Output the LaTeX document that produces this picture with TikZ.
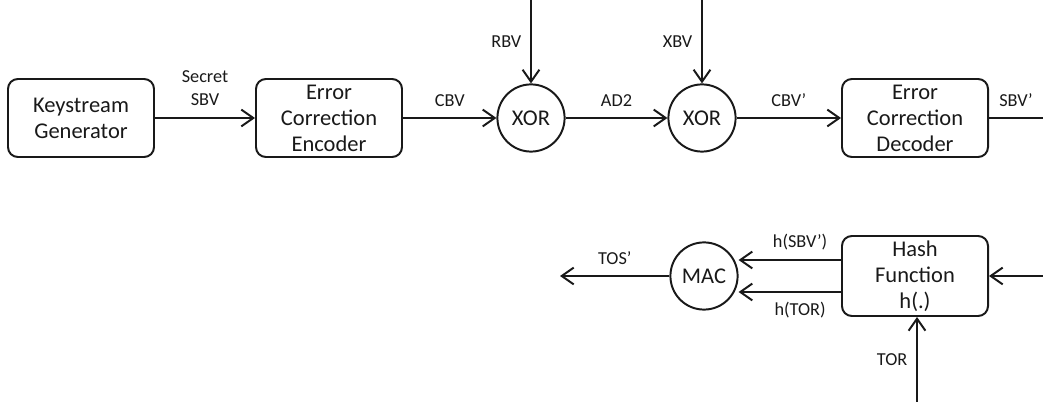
\documentclass[tikz,border=0pt]{standalone}
\usepackage{fontspec}
\setmainfont{Carlito}
\usetikzlibrary{
  arrows.meta,
  calc,
  positioning
}
\colorlet{ink}{black!90}
\tikzset{
  >={Straight Barb[length=3mm,width=4.2mm]},
  arrow/.style={->, draw=ink, line width=1.4pt},
  connector/.style={draw=ink, line width=1.4pt},
  block/.style={
    draw=ink,
    rounded corners=7pt,
    line width=1.4pt,
    minimum width=3.65cm,
    minimum height=1.95cm,
    inner sep=2pt,
    align=center,
    text=ink,
    font=\fontsize{16}{18.5}\selectfont
  },
  gate/.style={
    circle,
    draw=ink,
    line width=1.4pt,
    minimum size=1.68cm,
    inner sep=0pt,
    text=ink,
    font=\fontsize{16}{18.5}\selectfont
  },
  sig label/.style={font=\fontsize{13}{16}\selectfont, text=ink, align=center}
}

\begin{document}
\begin{tikzpicture}[x=1cm,y=1cm]
  \useasboundingbox (0,0) rectangle (26.075,10.05);

  % upper chain
  \node[block] (keygen) at (2.025,7.1) {Keystream\\Generator};
  \node[block] (encoder) at (8.225,7.1) {Error\\Correction\\Encoder};
  \node[gate] (xorA) at (13.275,7.1) {XOR};
  \node[gate] (xorB) at (17.55,7.1) {XOR};
  \node[block] (decoder) at (22.875,7.1) {Error\\Correction\\Decoder};

  % lower chain
  \node[block, minimum height=2.0cm] (hash) at (22.875,3.15) {Hash\\Function\\h(.)};
  \node[gate] (mac) at (17.6,3.15) {MAC};

  \coordinate (rbvin) at (13.275,10.05);
  \coordinate (xbvin) at (17.55,10.05);
  \coordinate (sbvout) at (26.075,7.1);
  \coordinate (hashin) at (26.075,3.15);
  \coordinate (torin) at (22.925,0);
  \coordinate (tosout) at (14.0,3.15);
  \coordinate (hsbv) at ($(hash.west)+(0,0.4)$);
  \coordinate (htor) at ($(hash.west)+(0,-0.4)$);

  \draw[arrow] (keygen.east) -- node[sig label, above=5pt] {Secret\\SBV} (encoder.west);
  \draw[arrow] (encoder.east) -- node[sig label, above=4pt] {CBV} (xorA.west);
  \draw[arrow] (xorA.east) -- node[sig label, above=4pt] {AD2} (xorB.west);
  \draw[arrow] (xorB.east) -- node[sig label, above=4pt] {CBV'} (decoder.west);
  \draw[connector] (decoder.east) -- node[sig label, above=4pt] {SBV'} (sbvout);
  \draw[arrow] (rbvin) -- node[sig label, left=1mm] {RBV} (xorA.north);
  \draw[arrow] (xbvin) -- node[sig label, left=1mm] {XBV} (xorB.north);

  \draw[arrow] (hashin) -- (hash.east);
  \draw[arrow] (torin) -- node[sig label, left=1mm] {TOR} (torin |- hash.south);
  \draw[arrow] (hsbv) -- node[sig label, above=3pt, pos=0.4] {h(SBV')} (hsbv -| mac.east);
  \draw[arrow] (htor) -- node[sig label, below=3pt, pos=0.4] {h(TOR)} (htor -| mac.east);
  \draw[arrow] (mac.west) -- node[sig label, above=4pt] {TOS'} (tosout);
\end{tikzpicture}
\end{document}
